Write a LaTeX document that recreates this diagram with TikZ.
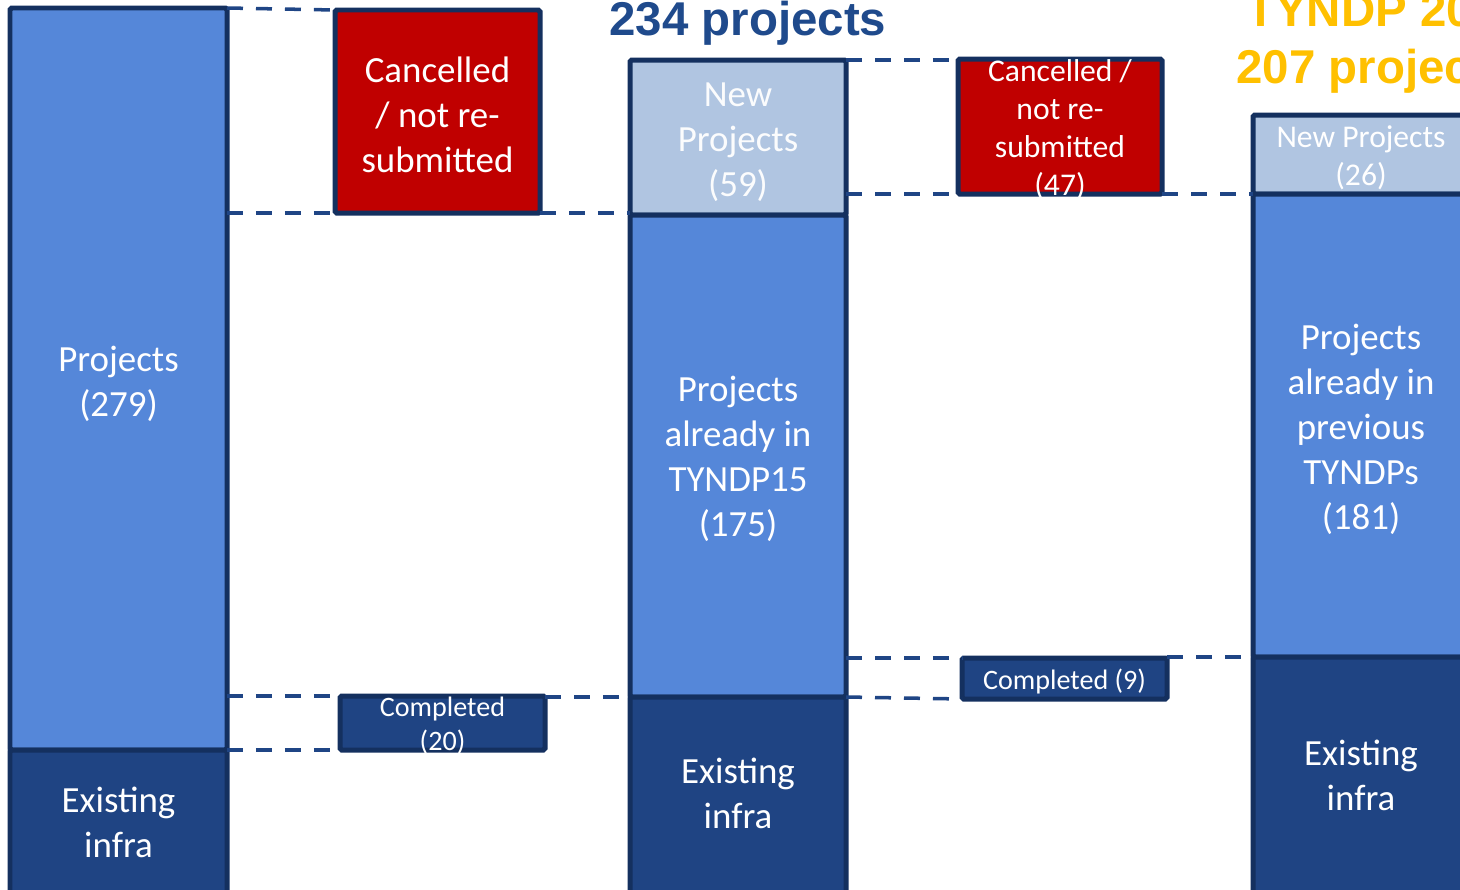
\documentclass[tikz,border=0pt]{standalone}
\usepackage{fontspec}
\setmainfont{Carlito}
\newfontfamily\headfont{Liberation Sans}
\usetikzlibrary{positioning, fit}

\definecolor{midblue}{HTML}{5587D9}
\definecolor{paleblue}{HTML}{B0C5E1}
\definecolor{darkblue}{HTML}{1F4483}
\definecolor{edgeblue}{HTML}{14305F}
\definecolor{linkblue}{HTML}{1F4585}
\definecolor{headblue}{HTML}{1F4A8C}
\definecolor{cxlred}{HTML}{C00000}
\definecolor{gold}{HTML}{FFC000}

\begin{document}
\begin{tikzpicture}[x=0.02cm, y=-0.02cm,
    box/.style={draw=edgeblue, line width=1mm, inner sep=0pt, outer sep=0pt, rounded corners=1pt},
    bigtxt/.style={text=white, align=center, yshift=-0.06cm, font=\fontsize{21}{25.6}\selectfont},
    smalltxt/.style={text=white, align=center, yshift=-0.06cm, font=\fontsize{18}{21.6}\selectfont},
    donetxt/.style={text=white, align=center, yshift=-0.06cm, font=\fontsize{16}{19.4}\selectfont},
    headtxt/.style={anchor=base, inner sep=0pt, font=\headfont\fontsize{27}{32}\bfseries\selectfont},
    link/.style={draw=linkblue, line width=2pt, dash pattern=on 0.32cm off 0.26cm}]
  \useasboundingbox (0,0) rectangle (1460,889);
  \clip (0,0) rectangle (1460,889);

  % first column
  \node (prj1) [box, fill=midblue, fit={(10,8) (227,750)}] {};
  \node (old1) [box, fill=darkblue, fit={(10,750) (227,894)}] {};
  \node (cxl1) [box, fill=cxlred, fit={(335,10) (540,213)}] {};
  \node (done1) [box, fill=darkblue, fit={(340,696) (545,750)}] {};

  % second column
  \node (new2) [box, fill=paleblue, fit={(630,60) (846,215)}] {};
  \node (prj2) [box, fill=midblue, fit={(630,215) (846,697)}] {};
  \node (old2) [box, fill=darkblue, fit={(630,697) (846,894)}] {};
  \node (cxl2) [box, fill=cxlred, fit={(958,59) (1162,194)}] {};
  \node (done2) [box, fill=darkblue, fit={(962,658) (1167,699)}] {};

  % third column
  \node (new3) [box, fill=paleblue, fit={(1253,115) (1469,194)}] {};
  \node (prj3) [box, fill=midblue, fit={(1253,194) (1469,657)}] {};
  \node (old3) [box, fill=darkblue, fit={(1253,657) (1469,894)}] {};

  % texts
  \node (t1) [bigtxt, yshift=-0.04cm] at (prj1) {Projects\\(279)};
  \node (t2) [bigtxt, yshift=0.06cm] at (old1) {Existing\\infra};
  \node (t3) [bigtxt] at (cxl1) {Cancelled\\/ not re-\\submitted};
  \node (t4) [donetxt] at (done1) {Completed\\(20)};
  \node (t5) [bigtxt, yshift=-0.04cm, text=white!95!paleblue] at (new2) {New\\Projects\\(59)};
  \node (t6) [bigtxt] at (prj2) {Projects\\already in\\TYNDP15\\(175)};
  \node (t7) [bigtxt, yshift=0.1cm] at (old2) {Existing\\infra};
  \node (t8) [smalltxt] at (cxl2) {Cancelled /\\not re-\\submitted\\(47)};
  \node (t9) [donetxt] at (done2) {Completed (9)};
  \node (t10) [smalltxt] at (new3) {New Projects\\(26)};
  \node (t11) [bigtxt, yshift=-0.02cm] at (prj3) {Projects\\already in\\previous\\TYNDPs\\(181)};
  \node (t12) [bigtxt, yshift=0.06cm] at (old3) {Existing\\infra};

  \node (head2) [headtxt, text=headblue] at (748,35) {234 projects};
  \node (head3a) [headtxt, anchor=base west, text=gold] at (1246,27) {TYNDP 2018:};
  \node (head3b) [headtxt, text=gold] at (1375,83) {207 projects};

  \path [link]
      (prj1.north east) edge (cxl1.north west)
      (prj1.east |- cxl1.south west) edge (cxl1.south west)
      (cxl1.south east) edge (cxl1.south east -| new2.west)
      (prj1.east |- done1.north west) edge (done1.north west)
      (prj1.south east) edge (done1.south west)
      (done1.north east |- prj2.south west) edge (prj2.south west)

      (new2.north east) edge (new2.north east -| cxl2.west)
      (new2.east |- cxl2.south west) edge (cxl2.south west)
      (cxl2.south east) edge (new3.south west)
      (prj2.east |- done2.north west) edge (done2.north west)
      (prj2.south east) edge (done2.south west)
      (done2.north east |- prj3.south west) edge (prj3.south west)
      ;
\end{tikzpicture}
\end{document}
